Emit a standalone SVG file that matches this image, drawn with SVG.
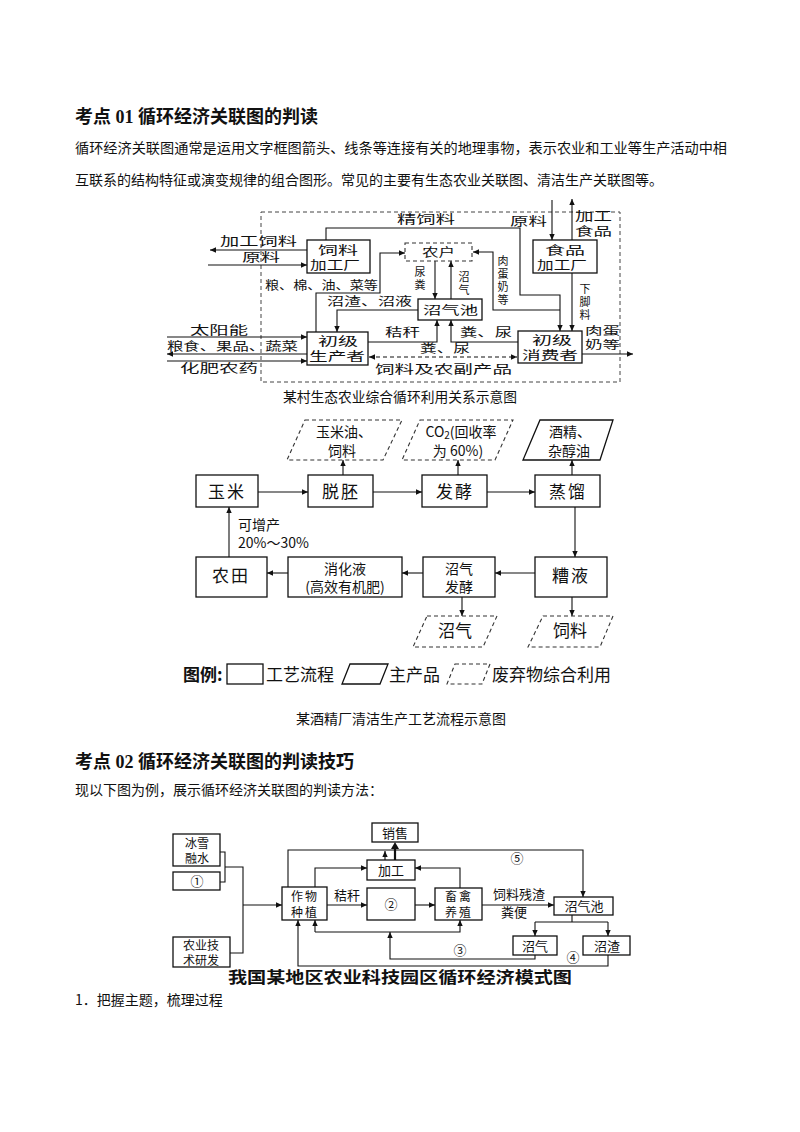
<svg xmlns="http://www.w3.org/2000/svg" width="800" height="1132" viewBox="0 0 800 1132">
<defs>
<marker id="ah" viewBox="0 0 10 10" refX="10" refY="5" markerWidth="7" markerHeight="6" markerUnits="userSpaceOnUse" orient="auto-start-reverse"><path d="M0,0.5 L10,5 L0,9.5 z" fill="#111"/></marker>
</defs>
<style>
text{font-family:"Noto Sans CJK SC",sans-serif;fill:#111}
.h{font-family:"Liberation Serif","Noto Sans CJK SC",serif;font-weight:bold;font-size:18px}
.p{font-size:14px}
.s1{font-size:12px}
.v{font-size:11px}
.vt{writing-mode:vertical-rl;letter-spacing:2px}
.bx{font-size:12px}
.s2{font-size:17px}
.two{font-size:14px}
.s3{font-size:13px}
.t3{font-size:12px}
.m{text-anchor:middle}
.b{fill:#fff;stroke:#111;stroke-width:1.3}
.bd{fill:#fff;stroke:#333;stroke-width:1.1;stroke-dasharray:4,3}
.ln{fill:none;stroke:#111;stroke-width:1.1}
.d{stroke-dasharray:4,3}
.a{marker-end:url(#ah)}
</style>
<rect width="800" height="1132" fill="#fff"/>

<g id="page-text">
<text class="h" x="75" y="123">考点 01 循环经济关联图的判读</text>
<text class="p" x="75" y="153" textLength="652" lengthAdjust="spacingAndGlyphs">循环经济关联图通常是运用文字框图箭头、线条等连接有关的地理事物，表示农业和工业等生产活动中相</text>
<text class="p" x="75" y="185">互联系的结构特征或演变规律的组合图形。常见的主要有生态农业关联图、清洁生产关联图等。</text>
<text class="p" x="283" y="402" textLength="234" lengthAdjust="spacingAndGlyphs">某村生态农业综合循环利用关系示意图</text>
<text class="p" x="296" y="724" textLength="210" lengthAdjust="spacingAndGlyphs">某酒精厂清洁生产工艺流程示意图</text>
<text class="h" x="75" y="768">考点 02 循环经济关联图的判读技巧</text>
<text class="p" x="75" y="795">现以下图为例，展示循环经济关联图的判读方法：</text>
<text class="p" x="75" y="1005">1．把握主题，梳理过程</text>
</g>

<!-- ========== Diagram 1 ========== -->
<g id="d1">
<rect x="261" y="212" width="359" height="170" fill="none" stroke="#444" stroke-width="1" stroke-dasharray="4,3"/>
<g id="d1-connectors">
<path class="ln a" d="M307,250 H210"/>
<path class="ln a" d="M208,265 H307"/>
<path class="ln a" d="M326,240 V228 H520 V295 H560 V331"/>
<path class="ln a" d="M560,310 H493 V252 H473"/>
<path class="ln a" d="M552,200 V240"/>
<path class="ln a" d="M572,240 V199"/>
<path class="ln a" d="M572,273 V331"/>
<path class="ln a" d="M316,332 V293 H380 V253 H405"/>
<path class="ln a" d="M435,261 V299"/>
<path class="ln a" d="M451,299 V261"/>
<path class="ln a" d="M418,310 H337 V332"/>
<path class="ln a" d="M368,342 H437 V320"/>
<path class="ln a" d="M518,342 H451 V320"/>
<path class="ln d a" d="M369,357 H517" marker-start="url(#ah)"/>
<path class="ln a" d="M167,337 H307"/>
<path class="ln a" d="M307,354 H167"/>
<path class="ln a" d="M167,361 H307"/>
<path class="ln a" d="M582,354 H633"/>
</g>
<g id="d1-labels" class="s1">
<text x="220" y="246" textLength="77" lengthAdjust="spacingAndGlyphs">加工饲料</text>
<text x="242" y="262" textLength="38" lengthAdjust="spacingAndGlyphs">原料</text>
<text x="265" y="290" textLength="113" lengthAdjust="spacingAndGlyphs">粮、棉、油、菜等</text>
<text x="397" y="224" textLength="58" lengthAdjust="spacingAndGlyphs">精饲料</text>
<text x="510" y="226" textLength="37" lengthAdjust="spacingAndGlyphs">原料</text>
<text x="575" y="221" textLength="37" lengthAdjust="spacingAndGlyphs">加工</text>
<text x="575" y="236" textLength="37" lengthAdjust="spacingAndGlyphs">食品</text>
<text x="327" y="306" textLength="85" lengthAdjust="spacingAndGlyphs">沼渣、沼液</text>
<g class="v">
<text class="vt" x="420" y="266">尿粪</text>
<text class="vt" x="464" y="271">沼气</text>
<text class="vt" x="503" y="255">肉蛋奶等</text>
<text class="vt" x="585" y="283">下脚料</text>
<text x="585" y="335" textLength="35" lengthAdjust="spacingAndGlyphs">肉蛋</text>
<text x="585" y="349" textLength="35" lengthAdjust="spacingAndGlyphs">奶等</text>
</g>
<text x="190" y="335" textLength="58" lengthAdjust="spacingAndGlyphs">太阳能</text>
<text x="167" y="351" textLength="131" lengthAdjust="spacingAndGlyphs">粮食、果品、蔬菜</text>
<text x="180" y="373" textLength="78" lengthAdjust="spacingAndGlyphs">化肥农药</text>
<text x="385" y="337" textLength="35" lengthAdjust="spacingAndGlyphs">秸秆</text>
<text x="460" y="337" textLength="52" lengthAdjust="spacingAndGlyphs">粪、尿</text>
<text x="420" y="353" textLength="50" lengthAdjust="spacingAndGlyphs">粪、尿</text>
<text x="375" y="374" textLength="137" lengthAdjust="spacingAndGlyphs">饲料及农副产品</text>
</g>
<g id="n-feedmill" class="bx"><rect class="b" x="307" y="240" width="63" height="33"/><text x="318" y="255" textLength="40" lengthAdjust="spacingAndGlyphs">饲料</text><text x="310" y="270" textLength="50" lengthAdjust="spacingAndGlyphs">加工厂</text></g>
<g id="n-farmer" class="bx"><rect class="bd" x="405" y="243" width="67" height="18"/><text x="422" y="257" textLength="33" lengthAdjust="spacingAndGlyphs">农户</text></g>
<g id="n-biogas" class="bx"><rect class="b" x="418" y="299" width="64" height="21"/><text x="423" y="315" textLength="55" lengthAdjust="spacingAndGlyphs">沼气池</text></g>
<g id="n-producer" class="bx"><rect class="b" x="307" y="332" width="61" height="33"/><text x="318" y="346" textLength="40" lengthAdjust="spacingAndGlyphs">初级</text><text x="309" y="361" textLength="56" lengthAdjust="spacingAndGlyphs">生产者</text></g>
<g id="n-consumer" class="bx"><rect class="b" x="518" y="331" width="64" height="32"/><text x="532" y="345" textLength="40" lengthAdjust="spacingAndGlyphs">初级</text><text x="522" y="360" textLength="56" lengthAdjust="spacingAndGlyphs">消费者</text></g>
<g id="n-foodmill" class="bx"><rect class="b" x="533" y="240" width="64" height="33"/><text x="545" y="255" textLength="40" lengthAdjust="spacingAndGlyphs">食品</text><text x="537" y="270" textLength="50" lengthAdjust="spacingAndGlyphs">加工厂</text></g>
</g>

<!-- ========== Diagram 2 ========== -->
<g id="d2" class="s2">
<g id="d2-connectors">
<path class="ln a" d="M258,492 H308"/>
<path class="ln a" d="M373,492 H422"/>
<path class="ln a" d="M487,492 H535"/>
<path class="ln a" d="M343,475 V460"/>
<path class="ln a" d="M458,475 V460"/>
<path class="ln a" d="M572,475 V460"/>
<path class="ln a" d="M575,507 V557"/>
<path class="ln a" d="M535,573 H495"/>
<path class="ln a" d="M423,573 H402"/>
<path class="ln a" d="M288,573 H267"/>
<path class="ln a" d="M229,557 V507"/>
<path class="ln a" d="M462,597 V616"/>
<path class="ln a" d="M572,597 V616"/>
</g>
<g id="n-corn"><rect class="b" x="196" y="475" width="62" height="32"/><text class="m" x="227" y="498" letter-spacing="2">玉米</text></g>
<g id="n-degerm"><rect class="b" x="308" y="475" width="65" height="32"/><text class="m" x="341" y="498" letter-spacing="2">脱胚</text></g>
<g id="n-ferment"><rect class="b" x="422" y="475" width="65" height="32"/><text class="m" x="455" y="498" letter-spacing="2">发酵</text></g>
<g id="n-distill"><rect class="b" x="535" y="475" width="65" height="32"/><text class="m" x="568" y="498" letter-spacing="2">蒸馏</text></g>
<g id="n-oil" class="two"><polygon class="bd" points="305,420 402,420 383,460 287,460"/><text class="m" x="344" y="437">玉米油、</text><text class="m" x="342" y="456">饲料</text></g>
<g id="n-co2" class="two"><polygon class="bd" points="420,420 513,420 495,460 402,460"/><text class="m" x="461" y="437">CO<tspan font-size="10" baseline-shift="-2">2</tspan>(回收率</text><text class="m" x="458" y="456">为 60%)</text></g>
<g id="n-alcohol" class="two"><polygon class="b" points="540,420 613,420 600,460 523,460"/><text class="m" x="570" y="437">酒精、</text><text class="m" x="569" y="456">杂醇油</text></g>
<g id="n-field"><rect class="b" x="196" y="557" width="71" height="40"/><text class="m" x="231" y="582" letter-spacing="2">农田</text></g>
<g id="n-digest" class="two"><rect class="b" x="288" y="557" width="114" height="40"/><text class="m" x="345" y="574">消化液</text><text class="m" x="345" y="592">(高效有机肥)</text></g>
<g id="n-biofer" class="two"><rect class="b" x="423" y="557" width="72" height="40"/><text class="m" x="459" y="574">沼气</text><text class="m" x="459" y="592">发酵</text></g>
<g id="n-vinasse"><rect class="b" x="535" y="557" width="72" height="40"/><text class="m" x="571" y="582" letter-spacing="2">糟液</text></g>
<g id="n-gas"><polygon class="bd" points="427,616 497,616 483,647 413,647"/><text class="m" x="455" y="637">沼气</text></g>
<g id="n-feed"><polygon class="bd" points="543,616 613,616 600,647 528,647"/><text class="m" x="570" y="637">饲料</text></g>
<text class="two" x="238" y="530">可增产</text>
<text class="two" x="238" y="548">20%～30%</text>
<g id="legend">
<text x="183" y="681" font-weight="bold">图例:</text>
<rect class="b" x="227" y="664" width="36" height="20"/>
<text x="266" y="681">工艺流程</text>
<polygon class="b" points="350,664 388,664 380,684 342,684"/>
<text x="389" y="681">主产品</text>
<polygon class="bd" points="455,664 490,664 482,684 447,684"/>
<text x="492" y="681">废弃物综合利用</text>
</g>
</g>

<!-- ========== Diagram 3 ========== -->
<g id="d3" class="s3">
<g id="d3-connectors">
<path class="ln" d="M220,852 H225 V882 H220"/>
<path class="ln" d="M225,867 H243 V953 H230"/>
<path class="ln a" d="M243,905 H282"/>
<path class="ln a" d="M327,905 H367"/>
<path class="ln a" d="M415,905 H435"/>
<path class="ln a" d="M482,905 H554"/>
<path class="ln a" d="M288,887 V850 H583 V897"/>
<path class="ln a" d="M385,860 V851"/>
<path fill="none" stroke="#111" stroke-width="2.2" d="M395,860 V848"/>
<path d="M391,849 L395,842 L399,849 z" fill="#111"/>
<path class="ln a" d="M315,887 V868 H367"/>
<path class="ln a" d="M460,888 V868 H415"/>
<path class="ln" d="M572,915 V922 M535,922 H608"/>
<path class="ln a" d="M535,922 V936"/>
<path class="ln a" d="M608,922 V936"/>
<path class="ln a" d="M535,955 V959 H390 V932"/>
<path class="ln a" d="M315,932 V920"/>
<path class="ln a" d="M315,932 H460 V920"/>
<path class="ln a" d="M608,955 V966 H298 V920"/>
</g>
<g id="n-ice" class="t3"><rect class="b" x="173" y="834" width="47" height="32"/><text class="m" x="197" y="848">冰雪</text><text class="m" x="197" y="863">融水</text></g>
<g id="n-1"><rect class="b" x="173" y="872" width="47" height="18"/><text class="m" x="197" y="886">①</text></g>
<g id="n-tech" class="t3"><rect class="b" x="173" y="937" width="57" height="30"/><text class="m" x="201" y="950">农业技</text><text class="m" x="201" y="965">术研发</text></g>
<g id="n-crop" class="t3"><rect class="b" x="282" y="887" width="45" height="33"/><text class="m" x="305" y="901" letter-spacing="2">作物</text><text class="m" x="305" y="917" letter-spacing="2">种植</text></g>
<g id="n-2"><rect class="b" x="367" y="888" width="48" height="32"/><text class="m" x="391" y="909">②</text></g>
<g id="n-process"><rect class="b" x="367" y="860" width="48" height="20"/><text class="m" x="391" y="875">加工</text></g>
<g id="n-sale"><rect class="b" x="372" y="823" width="46" height="19"/><text class="m" x="395" y="838">销售</text></g>
<g id="n-livestock" class="t3"><rect class="b" x="435" y="888" width="47" height="32"/><text class="m" x="459" y="901" letter-spacing="2">畜禽</text><text class="m" x="459" y="917" letter-spacing="2">养殖</text></g>
<g id="n-pool"><rect class="b" x="554" y="897" width="59" height="18"/><text class="m" x="584" y="911">沼气池</text></g>
<g id="n-gas2"><rect class="b" x="513" y="936" width="44" height="19"/><text class="m" x="535" y="951">沼气</text></g>
<g id="n-residue"><rect class="b" x="583" y="936" width="47" height="19"/><text class="m" x="607" y="951">沼渣</text></g>
<text class="m" x="347" y="900">秸秆</text>
<text class="m" x="519" y="899">饲料残渣</text>
<text class="m" x="514" y="917">粪便</text>
<text class="m" x="517" y="863">⑤</text>
<text class="m" x="460" y="955">③</text>
<text class="m" x="573" y="962">④</text>
<text x="228" y="983" font-weight="bold" font-size="16" textLength="344" lengthAdjust="spacingAndGlyphs">我国某地区农业科技园区循环经济模式图</text>
</g>
</svg>
